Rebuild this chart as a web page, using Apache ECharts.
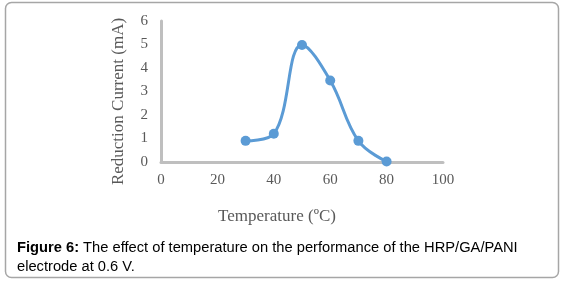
<!DOCTYPE html>
<html lang="en">
<head>
    <meta charset="utf-8">
    <title>Temperature effect</title>
    <script src="https://cdn.jsdelivr.net/npm/echarts@6/dist/echarts.min.js"></script>
</head>
<body style="margin:0; background:#fff;">
<div id="main" style="width: 564px; height: 284px;"></div>
<script type="text/javascript">
    // temperature (°C) vs reduction current (mA)
    const temperature = [30, 40, 50, 60, 70, 80];
    const current = [0.9, 1.2, 4.98, 3.47, 0.9, 0.02];
    const xTicks = [0, 100, 20];   // min, max, step
    const yTicks = [0, 6, 1];

    const serif = '"Liberation Serif", "DejaVu Serif", serif';
    const sans = '"Liberation Sans", Arial, sans-serif';

    let myChart = echarts.init(document.getElementById('main'));
    const option = {
        animation: false,
        grid: { left: 161, right: 121, top: 21, bottom: 122 },
        xAxis: {
            type: 'value',
            min: xTicks[0], max: xTicks[1], interval: xTicks[2],
            name: 'Temperature (ºC)',
            nameLocation: 'middle',
            nameGap: 46,
            nameTextStyle: { fontFamily: serif, fontSize: 17, color: '#595959', padding: [0, 50, 0, 0] },
            axisLine: { lineStyle: { color: '#bfbfbf', width: 3 } },
            axisTick: { show: false },
            splitLine: { show: false },
            axisLabel: { fontFamily: serif, fontSize: 15, color: '#595959', margin: 11 }
        },
        yAxis: {
            type: 'value',
            min: yTicks[0], max: yTicks[1], interval: yTicks[2],
            name: 'Reduction Current (mA)',
            nameLocation: 'middle',
            nameGap: 34,
            nameRotate: 90,
            nameTextStyle: { fontFamily: serif, fontSize: 17, color: '#595959', padding: [0, 20, 0, 0] },
            axisLine: { show: true, lineStyle: { color: '#bfbfbf', width: 3 } },
            axisTick: { show: false },
            splitLine: { show: false },
            axisLabel: { fontFamily: serif, fontSize: 15, color: '#595959', margin: 13 }
        },
        series: [{
            type: 'line',
            smooth: 0.4,
            data: temperature.map((t, i) => [t, current[i]]),
            symbol: 'circle',
            symbolSize: 10,
            lineStyle: { color: '#5b9bd5', width: 3 },
            itemStyle: { color: '#5b9bd5' }
        }],
        graphic: [
            {
                type: 'rect',
                shape: { x: 5.5, y: 2.5, width: 553, height: 275, r: 6 },
                style: { fill: null, stroke: '#a6a6a6', lineWidth: 1.5 },
                z: -1
            },
            {
                type: 'text',
                left: 17, top: 238,
                style: {
                    text: '{b|Figure 6:} The effect of temperature on the performance of the HRP/GA/PANI\nelectrode at 0.6 V.',
                    fontFamily: sans,
                    fontSize: 14.7,
                    lineHeight: 19,
                    fill: '#000',
                    rich: {
                        b: { fontWeight: 'bold', fontFamily: sans, fontSize: 14.7, lineHeight: 19 }
                    }
                }
            }
        ]
    };
    myChart.setOption(option);
</script>
</body>
</html>
